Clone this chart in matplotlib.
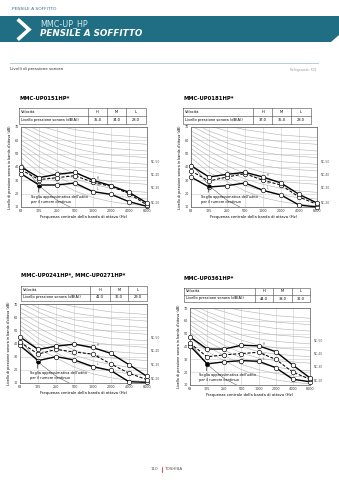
import matplotlib
matplotlib.use('Agg')
import matplotlib.pyplot as plt
from matplotlib.patches import Polygon
import numpy as np

W, H = 339, 480

freq_labels = ['63', '125', '250', '500', '1000', '2000', '4000', '8000']

# curve NC di riferimento (banda d'ottava 63..8000 Hz)
nc_levels = [15, 20, 25, 30, 35, 40, 45, 50, 55, 60, 65]
nc_values = [
	[47, 36, 29, 22, 17, 14, 12, 11],
	[51, 40, 33, 26, 22, 19, 17, 16],
	[54, 44, 37, 31, 27, 24, 22, 21],
	[57, 48, 41, 35, 31, 29, 28, 27],
	[60, 52, 45, 40, 36, 34, 33, 32],
	[64, 56, 50, 45, 41, 39, 38, 37],
	[67, 60, 54, 49, 46, 44, 43, 42],
	[71, 64, 58, 54, 51, 49, 48, 47],
	[74, 67, 62, 58, 56, 54, 53, 52],
	[77, 71, 67, 63, 61, 59, 58, 57],
	[80, 75, 71, 68, 66, 64, 63, 62],
]
nc_labeled = [20, 30, 40, 50]
threshold = [43, 26, 15, 8, 5, 3, 2, 6]

table_velocity = ['H', 'M', 'L']

up0151_h = [40, 32, 34.5, 36, 30, 26, 21, 13]
up0151_m = [38, 30.5, 32, 33.5, 28.5, 25.5, 20, 11.5]
up0151_l = [35, 26.5, 26.5, 28, 21.5, 19.5, 14, 10.5]
up0151_dba = ['35.0', '34.0', '28.0']

up0181_h = [41, 32.5, 34.5, 36, 32.5, 28, 19.5, 13]
up0181_m = [37, 29.5, 32.5, 35, 30, 26.5, 17.5, 12]
up0181_l = [32.5, 25, 26, 28, 22.5, 19, 11.5, 10]
up0181_dba = ['37.0', '35.0', '28.0']

up0241_h = [45, 35.5, 38, 39.5, 37, 32.5, 24, 15]
up0241_m = [41, 32, 35.5, 33.5, 32, 24.5, 17.5, 12.5]
up0241_l = [38.5, 27, 30, 27.5, 22.5, 19.5, 11, 10.5]
up0241_dba = ['41.0', '36.0', '29.0']

up0361_h = [47.5, 38, 38, 41, 40.5, 36, 25.5, 15.5]
up0361_m = [42.5, 32, 33.5, 34.5, 35.5, 30, 20, 14.5]
up0361_l = [40.5, 26.5, 28, 29, 28.5, 23.5, 14.5, 12.5]
up0361_dba = ['44.0', '38.0', '32.0']

TEAL = '#1f6e84'


def draw_table(bg, x0, x1, y0, y1, dividers, values):
	ym = (y0 + y1) / 2
	bg.plot([x0, x1, x1, x0, x0], [y0, y0, y1, y1, y0], color='#444444', lw=0.4)
	bg.plot([x0, x1], [ym, ym], color='#444444', lw=0.4)
	for d in dividers:
		bg.plot([d, d], [y0, y1], color='#444444', lw=0.4)
	edges = dividers + [x1]
	bg.text(x0 + 2, (y0 + ym) / 2, 'Velocità', fontsize=2.6, va='center', ha='left')
	bg.text(x0 + 2, (ym + y1) / 2, 'Livello pressione sonora (dB(A))', fontsize=2.6, va='center', ha='left')
	for i in range(3):
		xc = (edges[i] + edges[i + 1]) / 2
		bg.text(xc, (y0 + ym) / 2, table_velocity[i], fontsize=2.6, va='center', ha='center')
		bg.text(xc, (ym + y1) / 2, values[i], fontsize=2.6, va='center', ha='center')


def draw_chart(fig, box, h, m, l):
	left, top, right, bottom = box
	ax = fig.add_axes([left / W, 1 - bottom / H, (right - left) / W, (bottom - top) / H])
	x = np.arange(len(freq_labels))
	for lev, vals in zip(nc_levels, nc_values):
		ax.plot(x, vals, color='#b0b0b0', lw=0.4, zorder=1)
		if lev in nc_labeled:
			ax.text(7.2, vals[-1] - 3, 'NC-%d' % lev, fontsize=2.2, color='#555555',
					va='center', ha='left', clip_on=False)
	ax.plot(x, threshold, color='#666666', lw=0.4, zorder=2)

	ax.plot(x, h, color='black', lw=1.0, marker='o', ms=3.2, mfc='white', mec='black',
			mew=0.45, zorder=5, clip_on=False)
	ax.plot(x, m, color='black', lw=0.75, ls=(0, (3, 1.6)), marker='o', ms=3.2, mfc='white',
			mec='black', mew=0.45, zorder=4, clip_on=False)
	ax.plot(x, l, color='black', lw=1.0, marker='o', ms=3.2, mfc='white', mec='black',
			mew=0.45, zorder=3, clip_on=False)
	# etichette H / M / L accanto al punto a 1000 Hz
	for name, vals, dy in zip(['H', 'M', 'L'], [h, m, l], [1.8, -1.9, 1.8]):
		ax.text(4.22, vals[4] + dy, name, fontsize=2.0, color='#555555', va='center', ha='left')

	ax.plot([1], [threshold[1]], marker='o', ms=1.8, color='black', zorder=6)
	ax.annotate("Soglia approssimativa dell'udito\nper il rumore continuo",
				xy=(1, threshold[1]), xytext=(0.55, 15.5), fontsize=2.5, va='center', ha='left',
				linespacing=1.3, arrowprops=dict(arrowstyle='-', lw=0.4, color='black',
												 shrinkA=0, shrinkB=0, relpos=(0.12, 1)))

	ax.set_xlim(0, 7)
	ax.set_ylim(10, 70)
	ax.set_xticks(x)
	ax.set_xticklabels(freq_labels)
	ax.set_yticks(np.arange(10, 71, 10))
	ax.tick_params(length=0, pad=1.5, labelsize=2.4, colors='#333333')
	ax.grid(color='#cccccc', lw=0.4)
	ax.set_axisbelow(True)
	for sp in ax.spines.values():
		sp.set_linewidth(0.5)
		sp.set_color('#555555')
	ax.set_xlabel('Frequenza centrale della banda di ottava (Hz)', fontsize=2.7, labelpad=1.5)
	ax.set_ylabel("Livello di pressione sonora in banda d'ottava (dB)", fontsize=2.4, labelpad=2)
	return ax


fig = plt.figure(figsize=(W / 100, H / 100), dpi=100)
bg = fig.add_axes([0, 0, 1, 1], zorder=0)
bg.set_xlim(0, W)
bg.set_ylim(H, 0)
bg.axis('off')

# intestazione
bg.text(12, 9.5, 'PENSILE A SOFFITTO', fontsize=3.2, color='#3d7686', va='center', ha='left')
bg.add_patch(Polygon([(0, 16), (339, 16), (339, 35), (331, 42), (0, 42)], closed=True,
					 facecolor=TEAL, edgecolor='none'))
bg.plot([19, 29, 19], [20.5, 29.5, 38.5], color='white', lw=2.6, solid_joinstyle='miter')
bg.text(40, 23.5, 'MMC-UP_HP', fontsize=5.8, color='#d7e8ee', va='center', ha='left')
bg.text(40, 33, 'PENSILE A SOFFITTO', fontsize=6.3, color='white', va='center', ha='left',
		fontweight='bold', fontstyle='italic')
bg.plot([10, 318], [63, 63], color='#a9c6d0', lw=0.6)
bg.text(10, 69, 'Livelli di pressione sonora', fontsize=3.0, color='#333333', va='center', ha='left')
bg.text(316, 69.5, 'Refrigerante: R32', fontsize=2.2, color='#999999', va='center', ha='right')

# grafici
bg.text(20, 99, 'MMC-UP0151HP*', fontsize=3.8, fontweight='bold', va='center', ha='left')
draw_table(bg, 19, 146, 107.5, 124, [88, 107, 126], up0151_dba)
draw_chart(fig, (21, 127, 147, 207), up0151_h, up0151_m, up0151_l)

bg.text(183, 99, 'MMC-UP0181HP*', fontsize=3.8, fontweight='bold', va='center', ha='left')
draw_table(bg, 183, 311, 107.5, 124, [253, 272, 291], up0181_dba)
draw_chart(fig, (191, 127, 317, 207), up0181_h, up0181_m, up0181_l)

bg.text(21, 276, 'MMC-UP0241HP*, MMC-UP0271HP*', fontsize=3.8, fontweight='bold', va='center', ha='left')
draw_table(bg, 21, 147, 286, 301, [90, 110, 128], up0241_dba)
draw_chart(fig, (20, 304, 147, 383), up0241_h, up0241_m, up0241_l)

bg.text(184, 279, 'MMC-UP0361HP*', fontsize=3.8, fontweight='bold', va='center', ha='left')
draw_table(bg, 184, 310, 288, 302, [255, 273, 292], up0361_dba)
draw_chart(fig, (190, 308, 310, 385), up0361_h, up0361_m, up0361_l)

# piè di pagina
bg.text(158.5, 469, '110', fontsize=3.0, color='#555555', va='center', ha='right')
bg.plot([161.5, 161.5], [466.5, 471.5], color='#d0021b', lw=0.5)
bg.text(164.5, 469, 'TOSHIBA', fontsize=3.0, color='#555555', va='center', ha='left')

fig.savefig('out.png', dpi=100)
